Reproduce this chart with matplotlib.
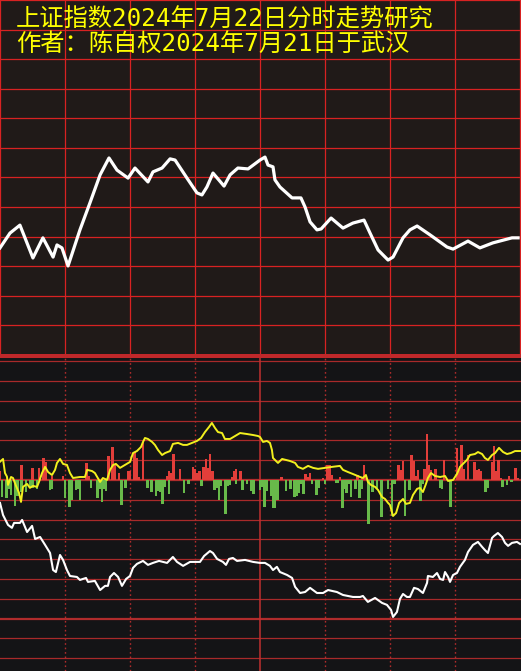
import numpy as np
import matplotlib
matplotlib.use("Agg")
import matplotlib.pyplot as plt
from matplotlib.patches import Rectangle

plt.rcParams['font.family'] = ['Noto Sans CJK SC', 'DejaVu Sans']

TITLE_1 = "上证指数2024年7月22日分时走势研究"
TITLE_2 = "作者：陈自权2024年7月21日于武汉"

# upper panel: index trace, minutes since open vs. grid units
top_t = [0, 4.6, 9.2, 15.2, 19.8, 24.5, 26.3, 28.6, 31.4, 36.9, 41.5, 46.2, 50.3,
         54.0, 59.1, 62.3, 68.3, 70.6, 74.8, 78.5, 80.8, 86.3, 90.9, 93.2, 95.5,
         98.3, 103.4, 106.2, 109.8, 114.5, 120.0, 122.3, 123.7, 126.0, 126.9,
         129.2, 134.8, 138.9, 140.8, 143.1, 146.3, 148.2, 152.8, 158.3, 162.9,
         168.0, 170.8, 174.5, 179.1, 181.4, 186.0, 189.2, 192.5, 198.5, 206.3,
         209.1, 216.0, 221.5, 227.5, 236.3, 239.1]
top_v = [3.62, 4.12, 4.39, 3.28, 3.96, 3.31, 3.72, 3.62, 3.01, 4.23, 5.14, 6.09, 6.66,
         6.25, 5.98, 6.32, 5.85, 6.19, 6.32, 6.63, 6.59, 5.98, 5.48, 5.41, 5.68,
         6.15, 5.71, 6.09, 6.32, 6.29, 6.59, 6.69, 6.42, 6.36, 5.92,
         5.68, 5.31, 5.31, 5.00, 4.50, 4.23, 4.26, 4.63, 4.29, 4.46,
         4.56, 4.12, 3.55, 3.21, 3.31, 3.96, 4.23, 4.36, 4.06, 3.65,
         3.58, 3.85, 3.62, 3.79, 3.96, 3.96]

# lower panel: yellow trace
yel_t = [0, 1.4, 2.3, 3.2, 3.7, 5.1, 6.0, 7.4, 8.8, 9.7, 10.6, 12.5, 13.8, 15.2, 17.1,
         18.0, 19.4, 20.8, 22.2, 24.0, 25.4, 26.3, 27.7, 29.1, 30.9, 32.3, 33.7, 36.9,
         39.2, 40.2, 42.5, 43.8, 46.2, 47.5, 49.4, 50.8, 52.2, 53.5, 55.4, 57.7, 60.0,
         61.4, 63.2, 65.1, 66.0, 66.9, 68.3, 70.2, 71.5, 72.9, 74.8, 76.2, 78.5, 79.8,
         82.2, 84.5, 86.3, 88.6, 90.9, 92.8, 94.6, 96.5, 97.8, 99.2, 100.6, 102.5,
         103.8, 106.2, 108.5, 110.8, 114.0, 116.8, 119.1, 120.0, 121.4, 123.2, 124.6,
         125.5, 126.0, 127.8, 128.3, 130.2, 133.8, 136.2, 137.5, 139.8, 142.2, 144.5,
         146.8, 150.0, 153.2, 156.9, 158.3, 160.6, 162.9, 166.2, 167.5, 168.9, 169.8,
         171.2, 173.1, 174.5, 176.3, 177.7, 179.1, 180.0, 181.4, 182.8, 184.2, 186.0,
         187.4, 189.2, 190.6, 192.5, 193.8, 195.2, 196.6, 197.5, 198.9, 200.8, 203.1,
         205.4, 206.8, 209.1, 210.9, 212.3, 213.7, 215.5, 216.9, 219.2, 220.6, 222.5,
         223.8, 225.2, 227.1, 228.5, 230.3, 232.2, 234.0, 235.8, 237.7, 240.0]
yel_v = [0.92, 1.06, 0.35, 0.17, -0.25, 0.15, 0.10, -0.30, -0.66, -1.11, -0.35, -0.20,
         -0.40, -0.30, -0.35, -0.10, 0.35, 0.66, 0.40, 0.25, 0.51, 0.86, 1.06, 0.81,
         0.76, 0.35, 0.10, 0.15, 0.15, 0.51, 0.45, 0.35, -0.10, 0.10, 0.0, 0.51, 0.76,
         0.81, 0.61, 0.76, 0.91, 1.36, 1.46, 1.67, 1.92, 2.12, 2.07, 1.92, 1.77, 1.52,
         1.26, 1.36, 1.46, 1.82, 1.87, 1.77, 1.77, 1.87, 1.97, 2.12, 2.42, 2.68, 2.88,
         2.63, 2.42, 2.37, 2.07, 2.07, 2.22, 2.37, 2.32, 2.27, 2.22, 2.17, 1.92, 1.97,
         1.87, 1.52, 1.11, 0.91, 0.86, 1.06, 0.96, 0.86, 0.66, 0.56, 0.71, 0.61, 0.56,
         0.61, 0.66, 0.71, 0.51, 0.40, 0.30, 0.15, 0.10, 0.25, -0.10, -0.25, -0.35,
         -0.51, -0.86, -0.96, -1.16, -1.26, -1.82, -1.67, -1.16, -0.96, -1.21, -1.16,
         -0.76, -0.45, -0.40, -0.61, -0.20, 0.10, 0.35, 0.20, 0.15, 0.20, -0.05, 0.0,
         0.30, 0.66, 0.81, 1.01, 1.26, 1.31, 1.41, 1.31, 1.11, 1.01, 1.26, 1.36, 1.62,
         1.41, 1.31, 1.36, 1.46, 1.46]

# lower panel: white trace
wht_t = [0, 1.4, 3.7, 5.5, 6.5, 9.2, 10.2, 12.5, 14.8, 16.2, 18.5, 20.8, 23.1, 24.5,
         25.8, 27.7, 29.1, 30.9, 32.3, 35.5, 36.9, 39.7, 40.6, 43.8, 46.2, 48.5, 49.8,
         50.8, 52.6, 54.5, 56.3, 58.2, 60.0, 61.4, 63.2, 66.0, 68.3, 70.6, 73.4, 77.1,
         79.8, 81.7, 84.5, 87.7, 92.3, 94.2, 96.9, 98.3, 100.2, 102.9, 104.3, 105.7,
         107.5, 109.4, 113.1, 116.8, 120.0, 122.3, 124.6, 126.0, 127.8, 129.2, 132.5,
         134.8, 136.2, 138.5, 140.8, 143.1, 146.3, 149.1, 151.4, 155.5, 158.3, 162.9,
         166.2, 167.5, 169.8, 173.1, 176.3, 178.6, 180.5, 181.4, 183.2, 184.6, 186.0,
         187.8, 189.2, 191.1, 192.9, 195.2, 197.1, 197.5, 199.8, 201.7, 203.1, 204.5,
         205.4, 206.8, 207.7, 209.1, 210.9, 212.3, 214.6, 216.0, 218.3, 220.6, 222.5,
         223.8, 225.2, 227.1, 228.0, 229.8, 231.7, 233.1, 234.5, 236.3, 238.6, 240.0]
wht_v = [-1.16, -1.77, -2.27, -2.42, -2.17, -2.17, -2.02, -2.63, -2.32, -2.98, -2.88,
         -3.28, -3.69, -4.55, -4.65, -3.79, -4.04, -4.55, -4.85, -4.90, -5.05, -4.95,
         -5.15, -5.10, -5.56, -5.35, -5.35, -4.90, -4.70, -4.90, -5.35, -5.00, -4.85,
         -4.44, -4.24, -4.09, -4.29, -4.19, -4.09, -4.19, -3.89, -4.14, -4.34, -4.14,
         -4.14, -3.84, -3.59, -3.69, -3.99, -4.14, -4.29, -3.99, -3.94, -4.09, -4.04,
         -4.14, -4.19, -4.19, -4.34, -4.55, -4.39, -4.65, -4.80, -4.95, -5.40, -5.71,
         -5.66, -5.45, -5.71, -5.71, -5.56, -5.66, -5.81, -5.91, -5.91, -5.86, -6.16,
         -5.96, -6.21, -6.31, -6.57, -6.92, -6.67, -6.01, -5.76, -5.91, -5.91, -5.45,
         -5.51, -5.71, -5.20, -4.85, -4.90, -4.70, -5.00, -5.05, -4.65, -4.90, -5.15,
         -4.80, -4.70, -4.39, -4.04, -3.64, -3.28, -3.13, -3.38, -3.54, -3.69, -2.93,
         -2.83, -2.68, -2.88, -3.18, -3.33, -3.18, -3.13, -3.23]

# lower panel: red (up) and green (down) bars
red_t = [0, 10, 15, 18, 20, 21, 24, 29, 40, 41, 50, 52, 53, 55, 59, 60, 62, 63, 64, 66,
         77, 78, 79, 80, 83, 89, 90, 91, 92, 94, 95, 96, 97, 98, 107, 108, 109, 111,
         130, 141, 142, 143, 149, 151, 152, 153, 157, 165, 167, 168, 169, 184, 185,
         186, 190, 191, 192, 193, 196, 197, 198, 199, 201, 205, 211, 212, 213, 214,
         216, 219, 220, 221, 222, 227, 228, 229, 230, 231, 235, 238, 239]
red_v = [0.45, 0.75, 0.6, 0.6, 1.1, 0.9, 0.2, 0.2, 0.85, 0.2, 1.2, 1.67, 0.75, 0.35,
         0.45, 0.45, 1.4, 1.1, 0.15, 1.9, 0.2, 0.45, 0.35, 1.3, 0.55, 0.65, 0.55, 0.35,
         0.45, 0.65, 1.05, 0.6, 1.3, 0.45, 0.15, 0.45, 0.55, 0.45, 0.15, 0.3, 0.15,
         0.35, 0.1, 0.75, 0.75, 0.25, 0.15, 0.25, 0.15, 0.75, 0.2, 0.75, 0.5, 0.95,
         1.25, 0.95, 0.2, 0.5, 0.55, 2.3, 0.75, 0.5, 0.55, 1.0, 1.6, 0.5, 1.75, 0.55,
         1.25, 0.9, 0.5, 0.55, 0.45, 0.9, 1.7, 0.45, 1.0, 0.1, 0.2, 0.6, 0.1]
grn_t = [1, 3, 4, 5, 7, 8, 10, 12, 14, 15, 17, 23, 24, 30, 32, 33, 35, 36, 37, 42, 45,
         46, 47, 48, 49, 56, 58, 68, 70, 72, 73, 74, 75, 76, 78, 85, 87, 93, 99, 100,
         101, 102, 104, 105, 106, 109, 112, 114, 116, 117, 120, 121, 122, 123, 125,
         126, 127, 128, 132, 134, 136, 137, 138, 139, 140, 144, 146, 147, 150, 155,
         156, 158, 159, 160, 161, 162, 164, 166, 167, 170, 172, 174, 176, 179, 181,
         182, 187, 189, 194, 195, 203, 204, 208, 224, 225, 232, 234, 236]
grn_v = [-0.85, -0.9, -0.45, -0.75, -1.3, -0.8, -0.6, -0.6, -0.35, -0.4, -0.45, -0.5,
         -0.45, -0.9, -1.35, -1.0, -0.5, -0.45, -1.0, -0.4, -0.9, -0.45, -1.1, -0.45,
         -0.55, -1.25, -0.4, -0.4, -0.6, -0.8, -0.55, -0.6, -1.2, -0.35, -0.7, -0.65,
         -0.2, -0.3, -0.5, -0.4, -1.0, -0.3, -1.7, -0.3, -0.25, -0.2, -0.5, -0.2,
         -0.55, -0.7, -0.5, -0.35, -1.35, -0.55, -0.8, -1.4, -1.4, -1.0, -0.55, -0.45,
         -0.85, -0.8, -0.65, -0.2, -0.7, -0.2, -0.75, -0.4, -0.2, -0.15, -0.15, -1.4,
         -0.45, -0.65, -0.2, -0.85, -0.45, -0.9, -0.45, -2.2, -0.6, -0.45, -1.85,
         -0.45, -1.8, -0.2, -1.8, -0.5, -1.05, -0.2, -0.4, -0.45, -1.35, -0.6, -0.4,
         -0.35, -0.25, -0.1]

W, H = 521, 671
fig = plt.figure(figsize=(W / 100, H / 100), dpi=100)
fig.patch.set_facecolor("#141416")

x_max = 240 * W / 520
grid_red = "#d82222"
dark_red = "#a82a2a"

# ---- top panel
ax = fig.add_axes([0, (H - 356) / H, 1, 356 / H])
ax.set_facecolor("#201a18")
ax.set_xlim(0, x_max)
ax.set_ylim(-0.034, 12)
for v in range(1, 13):
    ax.axhline(v, color=grid_red, lw=0.9, zorder=1)
for t in range(0, 241, 30):
    ax.axvline(t, color=grid_red, lw=0.9, zorder=1)
ax.plot(top_t, top_v, color="white", lw=2.3, zorder=3, solid_joinstyle="round")
for s in ax.spines.values():
    s.set_visible(False)
ax.set_xticks([])
ax.set_yticks([])
# digits from the mono face are wider, closer to the original bitmap font
title_font = ['DejaVu Sans Mono', 'Noto Sans CJK SC']
ax.text(0.03, 0.978, TITLE_1, transform=ax.transAxes, color="#ffff00",
        fontsize=17.5, va="top", ha="left", zorder=5, family=title_font)
ax.text(0.03, 0.907, TITLE_2, transform=ax.transAxes, color="#ffff00",
        fontsize=17.5, va="top", ha="left", zorder=5, family=title_font)

# separator between panels
fig.add_artist(Rectangle((0, (H - 358) / H), 1, 4 / H, transform=fig.transFigure,
                         facecolor="#c0282a", edgecolor="none"))

# ---- bottom panel
bx = fig.add_axes([0, 0, 1, 313 / H])
bx.set_facecolor("#141416")
bx.set_xlim(0, x_max)
bx.set_ylim(-9.65, 6.16)
for v in range(-9, 7):
    thick = v in (0, -7)
    bx.axhline(v, color="#b02c2c" if thick else dark_red, lw=1.6 if thick else 0.9, zorder=1)
for t in (30, 60, 90, 150, 180, 210):
    bx.axvline(t, color="#b02c2c", lw=1.0, ls=(0, (1.2, 2.0)), zorder=1)
bx.axvline(120, color="#c03030", lw=1.1, zorder=1)

bx.bar(red_t, red_v, width=1.15, color="#e23e3a", align="center", zorder=2)
bx.bar(grn_t, grn_v, width=1.15, color="#68ba4a", align="center", zorder=2)
bx.plot(yel_t, yel_v, color="#f2f01e", lw=1.4, zorder=4)
bx.plot(wht_t, wht_v, color="white", lw=1.5, zorder=4)
for s in bx.spines.values():
    s.set_visible(False)
bx.set_xticks([])
bx.set_yticks([])

fig.savefig("out.png", dpi=100, facecolor=fig.get_facecolor())
